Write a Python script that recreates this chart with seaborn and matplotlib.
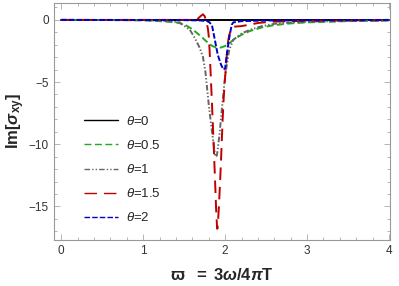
import numpy as np
import pandas as pd
import matplotlib
matplotlib.use("Agg")
import matplotlib.pyplot as plt
import seaborn as sns

# curves, one (omega, Im sigma_xy) pair of lists per theta
w_th0 = [0.0, 4.0]
im_th0 = [0.0, 0.0]

w_th05 = [0.0, 0.5, 1.0, 1.2, 1.4, 1.5, 1.6, 1.7, 1.8, 1.85, 1.9, 1.95, 2.0,
          2.05, 2.1, 2.2, 2.3, 2.45, 2.6, 2.8, 3.0, 3.5, 4.0]
im_th05 = [0.0, -0.01, -0.04, -0.1, -0.2, -0.35, -0.75, -1.3, -1.9, -2.12, -2.24,
           -2.22, -2.1, -1.9, -1.6, -1.2, -0.9, -0.6, -0.42, -0.28, -0.2, -0.1, -0.06]

w_th1 = [0.0, 1.0, 1.3, 1.44, 1.57, 1.63, 1.69, 1.73, 1.76, 1.80, 1.84, 1.88,
         1.90, 1.93, 1.96, 2.0, 2.05, 2.1, 2.2, 2.3, 2.45, 2.6, 2.8, 3.0, 3.5, 4.0]
im_th1 = [0.0, -0.02, -0.08, -0.2, -0.8, -1.45, -2.25, -3.0, -4.2, -6.8, -9.0, -11.0,
          -10.9, -9.3, -7.2, -4.5, -2.4, -1.6, -1.1, -0.8, -0.5, -0.32, -0.2, -0.14,
          -0.08, -0.05]

w_th15 = [0.0, 1.0, 1.4, 1.6, 1.66, 1.70, 1.73, 1.75, 1.77, 1.79, 1.80, 1.81,
          1.82, 1.83, 1.84, 1.85, 1.86, 1.87, 1.88, 1.89, 1.90, 1.905, 1.91, 1.92,
          1.93, 1.94, 1.95, 1.96, 1.97, 1.98, 1.99, 2.0, 2.01, 2.02, 2.03, 2.05,
          2.08, 2.1, 2.2, 2.3, 2.4, 2.55, 2.8, 3.0, 3.5, 4.0]
im_th15 = [0.0, 0.0, 0.0, 0.0, 0.05, 0.3, 0.45, 0.3, -0.1, -0.7, -1.3, -2.4,
           -3.8, -5.3, -6.8, -8.4, -10.0, -11.7, -13.4, -15.2, -16.5, -16.8, -16.5,
           -15.5, -14.2, -12.8, -11.3, -9.6, -8.0, -6.6, -5.5, -4.6, -3.8, -2.9,
           -2.0, -1.2, -0.7, -0.55, -0.5, -0.38, -0.25, -0.15, -0.1, -0.07, -0.04,
           -0.02]

w_th2 = [0.0, 1.5, 1.7, 1.78, 1.81, 1.84, 1.87, 1.91, 1.95, 1.98, 2.0, 2.02,
         2.05, 2.08, 2.1, 2.2, 2.5, 4.0]
im_th2 = [0.0, -0.02, -0.05, -0.1, -0.2, -0.45, -1.45, -2.8, -3.6, -4.0, -3.9,
          -2.8, -1.45, -0.4, -0.2, -0.1, -0.05, 0.0]

labels = [r"$\theta$=0", r"$\theta$=0.5", r"$\theta$=1", r"$\theta$=1.5", r"$\theta$=2"]
colors = ["#000000", "#22a822", "#666666", "#c00000", "#0000c8"]
styles = ["-", (0, (5, 2.5)), (0, (4, 1.5, 1, 1.5, 1, 1.5)), (0, (9, 5)), (0, (4, 1.5))]

sns.set_style("ticks")
plt.rcParams["font.family"] = ["Liberation Sans", "DejaVu Sans"]
plt.rcParams["mathtext.fontset"] = "custom"
plt.rcParams["mathtext.rm"] = "Liberation Sans"
plt.rcParams["mathtext.it"] = "Liberation Sans:italic"
plt.rcParams["mathtext.bf"] = "Liberation Sans:bold"
plt.rcParams["mathtext.bfit"] = "Liberation Sans:italic:bold"
plt.rcParams["lines.scale_dashes"] = False

fig = plt.figure(figsize=(3.99, 2.86), dpi=100)
ax = fig.add_axes([0.135, 0.161, 0.842, 0.829])

curves = [(w_th0, im_th0), (w_th05, im_th05), (w_th1, im_th1),
          (w_th15, im_th15), (w_th2, im_th2)]
for (w, im), lab, c, ls in zip(curves, labels, colors, styles):
    df = pd.DataFrame({"w": w, "im": im})
    sns.lineplot(data=df, x="w", y="im", ax=ax, color=c, linestyle=ls,
                 linewidth=1.4, label=lab, errorbar=None)

ax.set_xlim(-0.09, 4.01)
ax.set_ylim(-17.7, 1.37)
ax.set_xticks([0, 1, 2, 3, 4])
ax.set_xticks(np.arange(0, 4.01, 0.2), minor=True)
ax.set_yticks([0, -5, -10, -15])
ax.set_yticks(np.arange(-17, 1.1, 1), minor=True)
ax.tick_params(which="both", direction="in", top=True, right=True,
               color="#aaaaaa", labelsize=8.5, labelcolor="#333333", width=0.6)
ax.tick_params(which="major", length=4)
ax.tick_params(which="minor", length=2)
for s in ax.spines.values():
    s.set_color("#999999")
    s.set_linewidth(0.8)

ax.set_xlabel(r"$\mathbf{\varpi\ \ =\ 3}\mathbfit{\omega}\mathbf{/4}\mathbfit{\pi}\mathbf{T}$",
              fontsize=12, labelpad=7)
ax.set_ylabel(r"$\mathbf{Im[}\mathbfit{\sigma}_{\mathbf{xy}}\mathbf{]}$", fontsize=12,
              labelpad=1)

leg = ax.legend(loc="upper left", bbox_to_anchor=(0.07, 0.555), frameon=False,
                fontsize=9.5, handlelength=2.6, handletextpad=0.6, labelspacing=0.84,
                borderpad=0)
for h in leg.get_lines():
    h.set_linewidth(1.0)

fig.savefig("out.png", dpi=100)
